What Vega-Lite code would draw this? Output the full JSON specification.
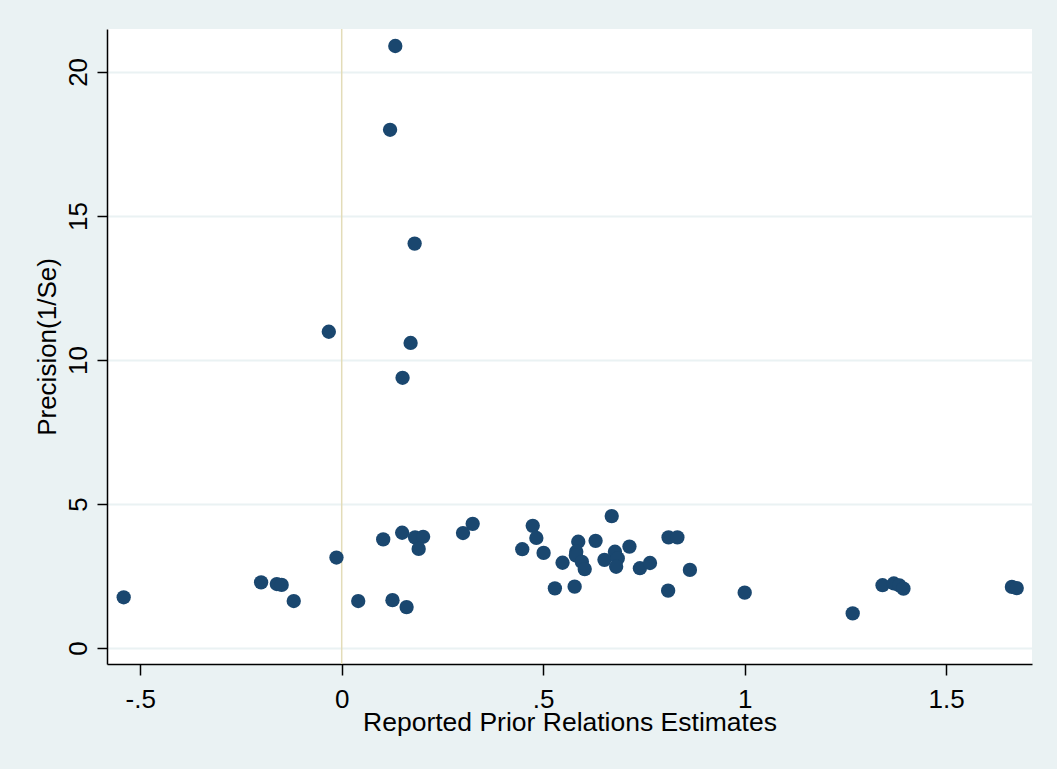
{
  "$schema": "https://vega.github.io/schema/vega-lite/v6.json",
  "width": 925,
  "height": 635,
  "autosize": {"type": "none"},
  "padding": {"left": 107, "top": 29, "right": 25, "bottom": 105},
  "background": "#EAF2F3",
  "config": {
    "view": {"stroke": null, "fill": "#FFFFFF"},
    "font": "Liberation Sans"
  },
  "datasets": {
    "pts": [
      {"est": 0.133, "prec": 20.9},
      {"est": 0.120, "prec": 17.99},
      {"est": 0.181, "prec": 14.04},
      {"est": -0.032, "prec": 10.98},
      {"est": 0.171, "prec": 10.59},
      {"est": 0.151, "prec": 9.38},
      {"est": -0.541, "prec": 1.76},
      {"est": -0.200, "prec": 2.28},
      {"est": -0.161, "prec": 2.22},
      {"est": -0.149, "prec": 2.19},
      {"est": -0.119, "prec": 1.63},
      {"est": -0.013, "prec": 3.14},
      {"est": 0.041, "prec": 1.63},
      {"est": 0.103, "prec": 3.77},
      {"est": 0.150, "prec": 4.00},
      {"est": 0.126, "prec": 1.66},
      {"est": 0.161, "prec": 1.42},
      {"est": 0.182, "prec": 3.84},
      {"est": 0.202, "prec": 3.86},
      {"est": 0.191, "prec": 3.44},
      {"est": 0.301, "prec": 3.99},
      {"est": 0.325, "prec": 4.31},
      {"est": 0.474, "prec": 4.24},
      {"est": 0.483, "prec": 3.82},
      {"est": 0.448, "prec": 3.43},
      {"est": 0.501, "prec": 3.30},
      {"est": 0.548, "prec": 2.96},
      {"est": 0.529, "prec": 2.07},
      {"est": 0.578, "prec": 2.13},
      {"est": 0.587, "prec": 3.69},
      {"est": 0.582, "prec": 3.34},
      {"est": 0.581, "prec": 3.21},
      {"est": 0.596, "prec": 2.99},
      {"est": 0.603, "prec": 2.74},
      {"est": 0.630, "prec": 3.72},
      {"est": 0.670, "prec": 4.58},
      {"est": 0.678, "prec": 3.34},
      {"est": 0.652, "prec": 3.06},
      {"est": 0.685, "prec": 3.11},
      {"est": 0.681, "prec": 2.82},
      {"est": 0.714, "prec": 3.52},
      {"est": 0.740, "prec": 2.77},
      {"est": 0.765, "prec": 2.95},
      {"est": 0.811, "prec": 3.84},
      {"est": 0.833, "prec": 3.84},
      {"est": 0.810, "prec": 1.99},
      {"est": 0.864, "prec": 2.71},
      {"est": 1.000, "prec": 1.92},
      {"est": 1.268, "prec": 1.20},
      {"est": 1.342, "prec": 2.18},
      {"est": 1.370, "prec": 2.24},
      {"est": 1.384, "prec": 2.17},
      {"est": 1.394, "prec": 2.06},
      {"est": 1.663, "prec": 2.12},
      {"est": 1.675, "prec": 2.08}
    ],
    "zero": [{"est": 0}]
  },
  "layer": [
    {
      "data": {"name": "zero"},
      "mark": {"type": "rule", "color": "#E3DCB8", "strokeWidth": 1.5},
      "encoding": {
        "x": {"field": "est", "type": "quantitative", "scale": {"domain": [-0.5824, 1.7129], "nice": false, "zero": false}}
      }
    },
    {
      "data": {"name": "pts"},
      "mark": {"type": "point", "shape": "circle", "filled": true, "size": 205, "color": "#1A476F", "opacity": 1, "strokeWidth": 0},
      "encoding": {
        "x": {
          "field": "est", "type": "quantitative",
          "scale": {"domain": [-0.5824, 1.7129], "nice": false, "zero": false},
          "axis": {
            "values": [-0.5, 0, 0.5, 1, 1.5],
            "labelExpr": "datum.value == -0.5 ? '-.5' : datum.value == 0.5 ? '.5' : datum.value == 1.5 ? '1.5' : datum.value == 1 ? '1' : '0'",
            "title": "Reported Prior Relations Estimates",
            "grid": false,
            "domainColor": "#000000",
            "domainWidth": 1.5,
            "tickColor": "#000000",
            "tickWidth": 1.5,
            "tickSize": 11,
            "labelFontSize": 26,
            "labelColor": "#000000",
            "labelBaseline": "alphabetic",
            "labelPadding": 32,
            "labelFont": "Liberation Sans",
            "titleFont": "Liberation Sans",
            "titleFontSize": 26.5,
            "titleFontWeight": "normal",
            "titleColor": "#000000",
            "titleBaseline": "alphabetic",
            "titleY": 66
          }
        },
        "y": {
          "field": "prec", "type": "quantitative",
          "scale": {"domain": [-0.556, 21.49], "nice": false, "zero": false},
          "axis": {
            "values": [0, 5, 10, 15, 20],
            "title": "Precision(1/Se)",
            "grid": true,
            "gridColor": "#EAF2F3",
            "gridWidth": 2,
            "domainColor": "#000000",
            "domainWidth": 1.5,
            "tickColor": "#000000",
            "tickWidth": 1.5,
            "tickSize": 10,
            "labelFontSize": 26,
            "labelColor": "#000000",
            "labelAngle": -90,
            "labelAlign": "center",
            "labelBaseline": "alphabetic",
            "labelPadding": 11,
            "labelFont": "Liberation Sans",
            "titleFont": "Liberation Sans",
            "titleFontSize": 26,
            "titleFontWeight": "normal",
            "titleColor": "#000000",
            "titleAngle": -90,
            "titleBaseline": "alphabetic",
            "titleX": -52
          }
        }
      }
    }
  ]
}
